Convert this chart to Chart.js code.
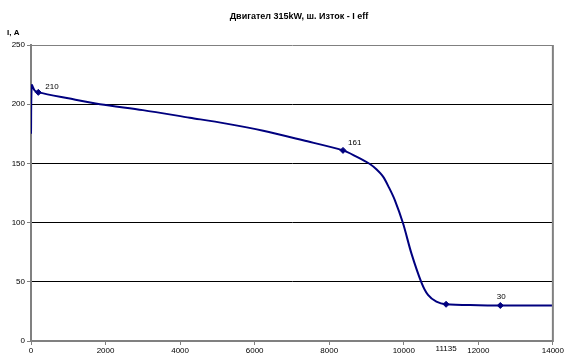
<!DOCTYPE html>
<html>
<head>
<meta charset="utf-8">
<script src="https://cdn.jsdelivr.net/npm/chart.js@4/dist/chart.umd.min.js"></script>
<style>
  html, body { margin: 0; padding: 0; background: #fff; }
  #wrap { width: 565px; height: 358px; }
</style>
</head>
<body>
<div id="wrap"><canvas id="c" width="565" height="358"></canvas></div>
<script>
// Motor current over time
const chartTitle = 'Двигател 315kW, ш. Изток - I eff';
const yAxisTitle = 'I, A';

// measured curve (time, current)
const curveX = [0, 20, 100, 196, 1000, 1850, 3000, 4260, 5200, 6230, 7300, 8370, 8730, 9090, 9265, 9445, 9605, 9760, 9980, 10205, 10475, 10650, 10875, 11135, 12000, 12590, 13240, 14000];
const curveY = [175, 216, 211.5, 210, 205, 200, 195, 188.6, 183.8, 177.6, 169.5, 161, 155.7, 149.5, 145, 138.8, 129.5, 119, 99.4, 74, 49.3, 38.9, 33.2, 31, 30.2, 30, 30, 30];

// marked points and which coordinate their label shows
const markX = [196, 8370, 11135, 12590];
const markY = [210, 161, 31, 30];
const markLabelOf = ['y', 'y', 'x', 'y'];

const xTicks = [0, 2000, 4000, 6000, 8000, 10000, 12000, 14000];
const yTicks = [0, 50, 100, 150, 200, 250];

const FONT = 'Liberation Sans, Arial, sans-serif';
const NAVY = '#00007f';

const decorPlugin = {
  id: 'decor',
  afterDraw(chart) {
    const { ctx, chartArea: a, scales } = chart;
    const xs = scales.x, ys = scales.y;
    ctx.save();
    // right border
    ctx.strokeStyle = '#808080';
    ctx.lineWidth = 2;
    ctx.beginPath();
    ctx.moveTo(a.right, a.top);
    ctx.lineTo(a.right, a.bottom + 1);
    ctx.stroke();

    // titles
    ctx.fillStyle = '#000';
    ctx.textBaseline = 'middle';
    ctx.font = 'bold 9px ' + FONT;
    ctx.textAlign = 'center';
    ctx.fillText(chartTitle, 299, 17);
    ctx.font = 'bold 8px ' + FONT;
    ctx.textAlign = 'left';
    ctx.fillText(yAxisTitle, 7, 33);

    // point labels
    ctx.font = '8px ' + FONT;
    markX.forEach((xv, i) => {
      const px = xs.getPixelForValue(xv);
      const py = ys.getPixelForValue(markY[i]);
      if (markLabelOf[i] === 'x') {
        ctx.textAlign = 'center';
        ctx.fillText(String(xv), px, a.bottom + 8);
      } else {
        const txt = String(markY[i]);
        if (i === 0) { ctx.textAlign = 'left'; ctx.fillText(txt, px + 7, py - 6); }
        else if (i === 1) { ctx.textAlign = 'left'; ctx.fillText(txt, px + 5, py - 8); }
        else { ctx.textAlign = 'center'; ctx.fillText(txt, px + 1, py - 9); }
      }
    });
    ctx.restore();
  }
};

new Chart(document.getElementById('c'), {
  type: 'scatter',
  data: {
    datasets: [
      {
        data: curveX.map((x, i) => ({ x, y: curveY[i] })),
        showLine: true,
        borderColor: NAVY,
        borderWidth: 2,
        pointRadius: 0,
        tension: 0.3,
        order: 2
      },
      {
        data: markX.map((x, i) => ({ x, y: markY[i] })),
        showLine: false,
        pointStyle: 'rectRot',
        pointRadius: 3,
        backgroundColor: NAVY,
        borderColor: NAVY,
        borderWidth: 1,
        order: 1
      }
    ]
  },
  options: {
    responsive: false,
    animation: false,
    layout: { padding: { top: 45, right: 12, left: 0, bottom: 0 } },
    plugins: {
      legend: { display: false },
      title: { display: false },
      tooltip: { enabled: false }
    },
    scales: {
      x: {
        type: 'linear',
        min: 0,
        max: 14000,
        afterFit(s) { s.height = 17; },
        afterBuildTicks(s) { s.ticks = xTicks.map(v => ({ value: v })); },
        ticks: {
          font: { family: FONT, size: 8 },
          color: '#000',
          padding: 1,
          maxRotation: 0,
          callback: v => String(v)
        },
        grid: {
          drawOnChartArea: false,
          drawTicks: true,
          tickLength: 4,
          tickColor: '#808080'
        },
        border: { color: '#808080', width: 2 }
      },
      y: {
        min: 0,
        max: 250,
        afterFit(s) { s.width = 31; },
        afterBuildTicks(s) { s.ticks = yTicks.map(v => ({ value: v })); },
        ticks: {
          font: { family: FONT, size: 8 },
          color: '#000',
          padding: 2,
          callback: v => String(v)
        },
        grid: {
          color: c => (c.tick && c.tick.value === 250) ? '#808080' : (c.tick && c.tick.value === 0 ? 'rgba(0,0,0,0)' : '#000'),
          lineWidth: 1,
          tickLength: 4,
          tickColor: '#808080'
        },
        border: { color: '#808080', width: 2 }
      }
    }
  },
  plugins: [decorPlugin]
});
</script>
</body>
</html>
